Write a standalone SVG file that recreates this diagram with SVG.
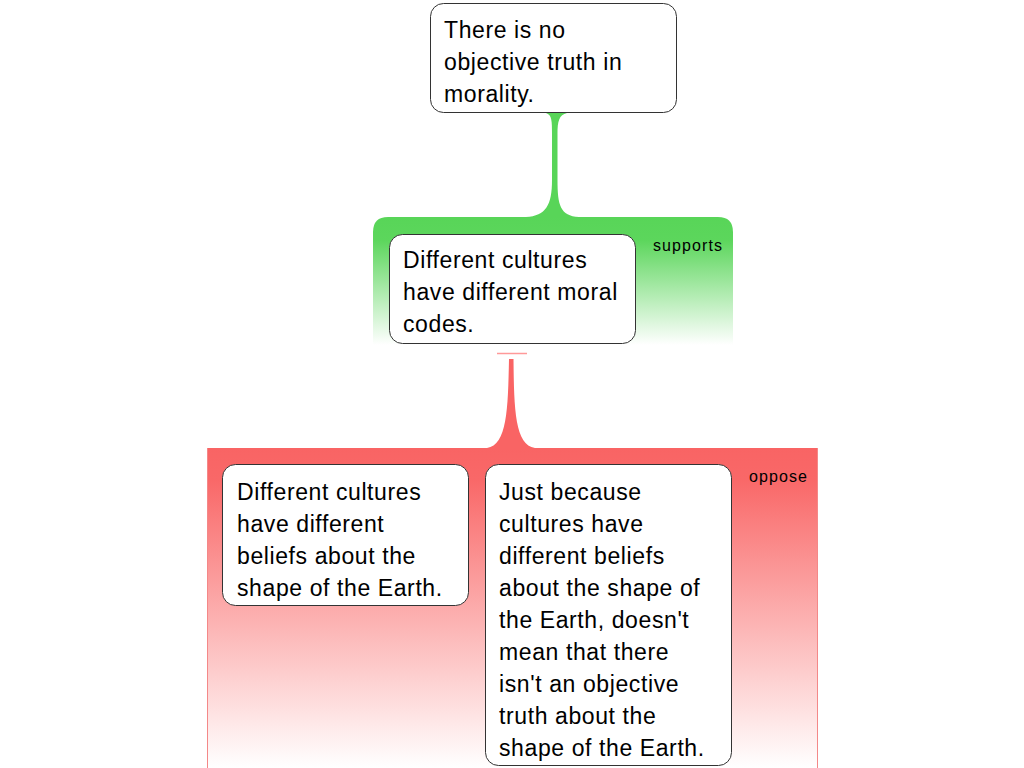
<svg xmlns="http://www.w3.org/2000/svg" width="1024" height="768" viewBox="0 0 1024 768">
  <defs>
    <linearGradient id="gGreen" x1="0" y1="0" x2="0" y2="1">
      <stop offset="0" stop-color="#58d558"/>
      <stop offset="0.18" stop-color="#5cd65c"/>
      <stop offset="1" stop-color="#ffffff"/>
    </linearGradient>
    <linearGradient id="gGreenSide" x1="0" y1="0" x2="0" y2="1">
      <stop offset="0" stop-color="#58d558"/>
      <stop offset="1" stop-color="#a8e8a8"/>
    </linearGradient>
    <linearGradient id="gRed" x1="0" y1="0" x2="0" y2="1">
      <stop offset="0" stop-color="#f96464"/>
      <stop offset="0.1" stop-color="#f96868"/>
      <stop offset="1" stop-color="#ffffff"/>
    </linearGradient>
    <style>
      .box { fill: #ffffff; stroke: #333333; stroke-width: 1; }
      .txt { font-family: "Liberation Sans", Arial, sans-serif; font-size: 23px; letter-spacing: 0.6px; fill: #000000; }
      .lbl { font-family: "Liberation Sans", Arial, sans-serif; font-size: 16px; letter-spacing: 1.1px; fill: #000000; }
    </style>
  </defs>

  <g id="groups">
    <g id="supports-group">
      <path d="M373,345 L373,232 Q373,217 388,217 L718,217 Q733,217 733,232 L733,345 Z" fill="url(#gGreen)"/>
      <line x1="373.5" y1="225" x2="373.5" y2="345" stroke="url(#gGreenSide)" stroke-width="1"/>
      <line x1="732.5" y1="225" x2="732.5" y2="345" stroke="url(#gGreenSide)" stroke-width="1"/>
      <text class="lbl" x="653" y="251">supports</text>
    </g>
    <g id="oppose-group">
      <rect x="207" y="448" width="611" height="320" fill="url(#gRed)"/>
      <line x1="207.5" y1="448" x2="207.5" y2="768" stroke="#f48888" stroke-width="1"/>
      <line x1="817.5" y1="448" x2="817.5" y2="768" stroke="#f48888" stroke-width="1"/>
      <text class="lbl" x="749" y="482">oppose</text>
    </g>
  </g>

  <g id="connectors">
    <path d="M546,113 C552,115 552,121 552,134 L552,180 C552,205 546,216 526,217 L579,217 C560,216 557.5,205 557.5,180 L557.5,134 C557.5,121 559,115 567,113 Z" fill="#58d558"/>
    <line x1="497" y1="353.5" x2="527" y2="353.5" stroke="#f99" stroke-width="1.5"/>
    <path d="M509,359 L513.5,359 C514,410 515,445 535,448 L487,448 C507,445 508,410 509,359 Z" fill="#f96464"/>
  </g>

  <g id="node-root">
    <rect class="box" x="430.5" y="3.5" width="246" height="109" rx="13"/>
    <text class="txt"><tspan x="444" y="38">There is no</tspan><tspan x="444" y="70">objective truth in</tspan><tspan x="444" y="102">morality.</tspan></text>
  </g>

  <g id="node-support">
    <rect class="box" x="389.5" y="234.5" width="246" height="109" rx="13"/>
    <text class="txt"><tspan x="403" y="268">Different cultures</tspan><tspan x="403" y="300">have different moral</tspan><tspan x="403" y="332">codes.</tspan></text>
  </g>

  <g id="node-oppose-1">
    <rect class="box" x="222.5" y="464.5" width="246" height="141" rx="13"/>
    <text class="txt"><tspan x="237" y="500">Different cultures</tspan><tspan x="237" y="532">have different</tspan><tspan x="237" y="564">beliefs about the</tspan><tspan x="237" y="596">shape of the Earth.</tspan></text>
  </g>

  <g id="node-oppose-2">
    <rect class="box" x="485.5" y="464.5" width="246" height="301" rx="13"/>
    <text class="txt"><tspan x="499" y="500">Just because</tspan><tspan x="499" y="532">cultures have</tspan><tspan x="499" y="564">different beliefs</tspan><tspan x="499" y="596">about the shape of</tspan><tspan x="499" y="628">the Earth, doesn't</tspan><tspan x="499" y="660">mean that there</tspan><tspan x="499" y="692">isn't an objective</tspan><tspan x="499" y="724">truth about the</tspan><tspan x="499" y="756">shape of the Earth.</tspan></text>
  </g>
</svg>
